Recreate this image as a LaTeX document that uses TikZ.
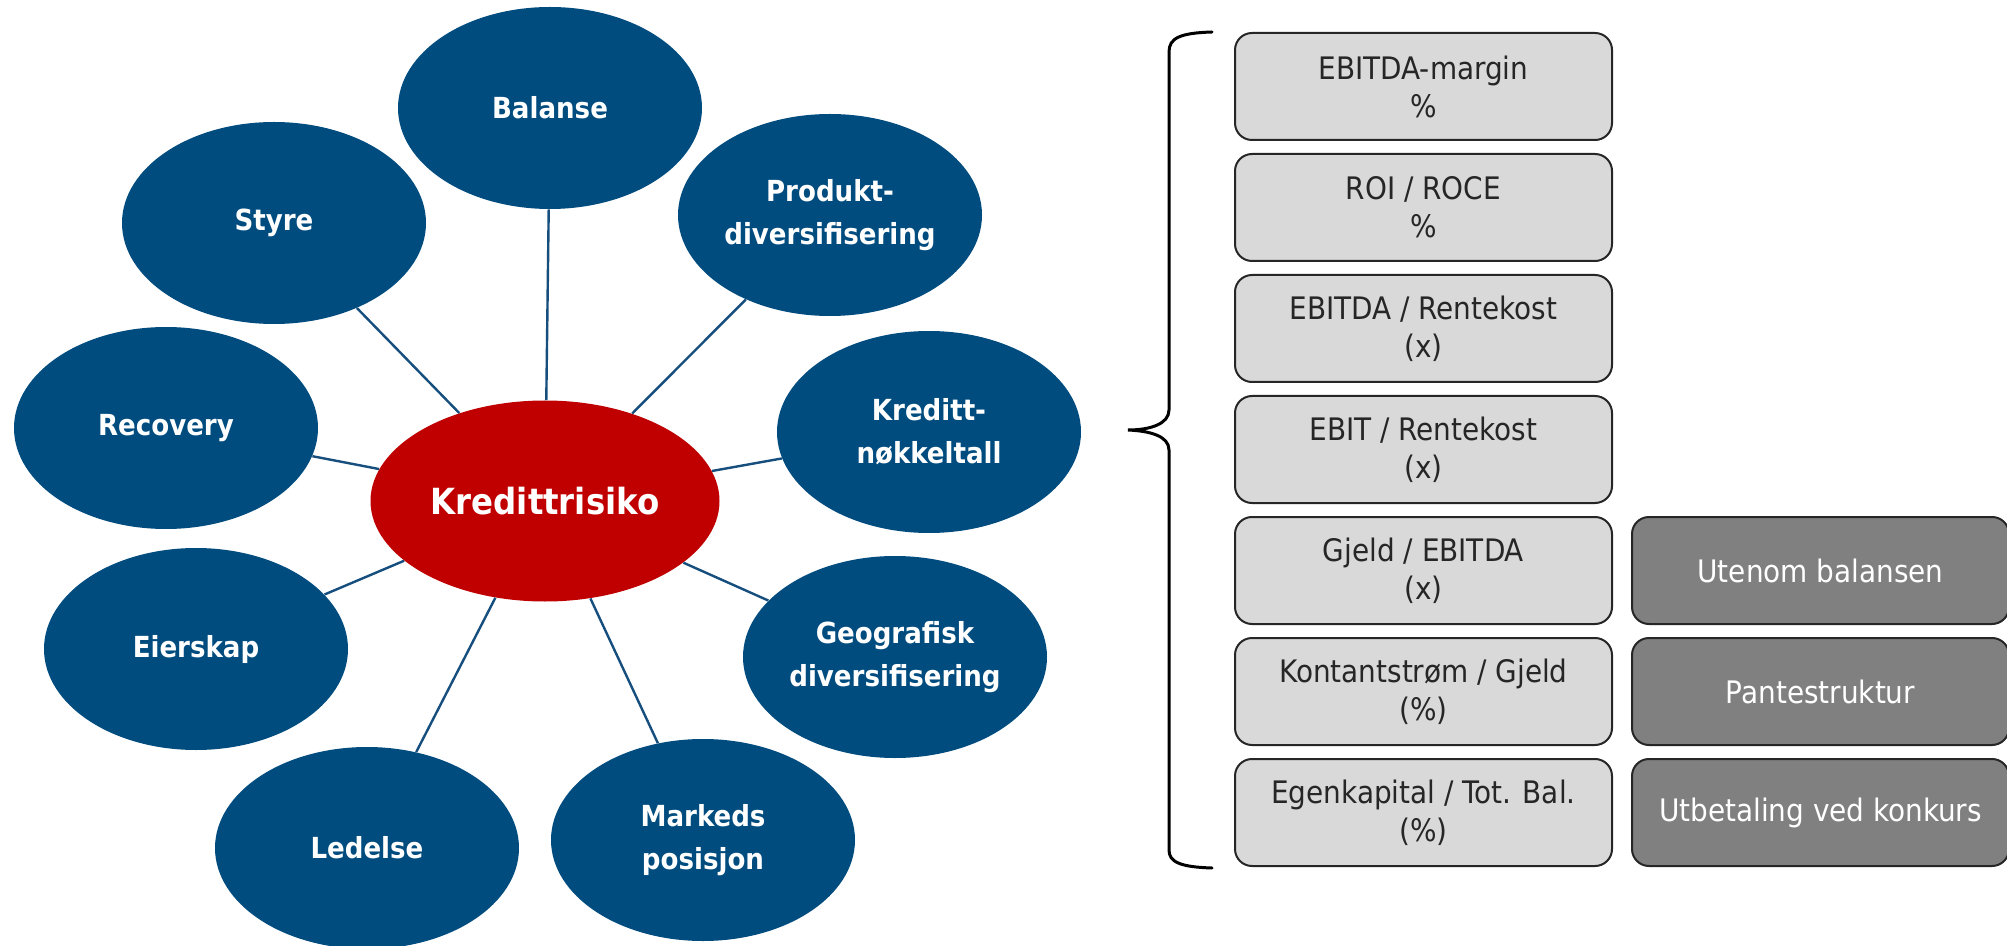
\documentclass[tikz,border=0pt]{standalone}
\usepackage{fontspec}
\setmainfont{DejaVu Sans Condensed}
\usepackage{tikz}
\usetikzlibrary{positioning}
\usetikzlibrary{shapes.geometric}

\definecolor{ellblue}{RGB}{0,76,127}
\definecolor{linkblue}{RGB}{22,78,126}
\definecolor{riskred}{RGB}{192,0,0}
\definecolor{boxgray}{RGB}{217,217,217}
\definecolor{keygray}{RGB}{128,128,128}
\definecolor{edgegray}{RGB}{38,38,38}

\begin{document}
\begin{tikzpicture}[x = 0.5pt, y = -0.5pt,
		factor/.style = {ellipse, fill = ellblue, text = white, align = center, inner sep = 0pt, minimum width = 152pt, minimum height = 101pt, font = \fontsize{14.5}{21.5}\selectfont\bfseries},
		link/.style = {draw = linkblue, line width = 1.2pt},
		ratio/.style = {rectangle, rounded corners = 8.5pt, draw = edgegray, line width = 1pt, fill = boxgray, text = black!85, align = center, minimum width = 188.5pt, minimum height = 53.5pt, font = \fontsize{15.5}{19}\selectfont},
		extra/.style = {ratio, fill = keygray, text = white}]
		\useasboundingbox (0,0) rectangle (2007,946);
		\fill[white] (0,0) rectangle (2007,946);

		% the risk wheel
		\node[factor, fill = riskred, minimum width = 174.5pt, minimum height = 100.5pt, font = \fontsize{18}{22}\selectfont\bfseries] at (545,501) (risk) {Kredittrisiko};
		\node[factor] at (550,108) (bal) {Balanse};
		\node[factor] at (274,223) (styre) {Styre};
		\node[factor] at (830,215) (prod) {Produkt-\\diversifisering};
		\node[factor] at (166,428) (recov) {Recovery};
		\node[factor] at (929,432) (kred) {Kreditt-\\nøkkeltall};
		\node[factor] at (196,649) (eier) {Eierskap};
		\node[factor] at (895,657) (geo) {Geografisk\\diversifisering};
		\node[factor] at (367,848) (led) {Ledelse};
		\node[factor] at (703,840) (mark) {Markeds\\posisjon};
		\draw[link] (risk) to (bal);
		\draw[link] (risk) to (styre);
		\draw[link] (risk) to (prod);
		\draw[link] (risk) to (recov);
		\draw[link] (risk) to (kred);
		\draw[link] (risk) to (eier);
		\draw[link] (risk) to (geo);
		\draw[link] (risk) to (led);
		\draw[link] (risk) to (mark);

		% key figures
		\node[ratio] at (1423.5,86.5) (margin) {EBITDA-margin\\\%};
		\node[below = 6pt of margin, ratio] (roi) {ROI / ROCE\\\%};
		\node[below = 6pt of roi, ratio] (cover) {EBITDA / Rentekost\\(x)};
		\node[below = 6pt of cover, ratio] (ebit) {EBIT / Rentekost\\(x)};
		\node[below = 6pt of ebit, ratio] (gjeld) {Gjeld / EBITDA\\(x)};
		\node[below = 6pt of gjeld, ratio] (cash) {Kontantstrøm / Gjeld\\(\%)};
		\node[below = 6pt of cash, ratio] (equity) {Egenkapital / Tot. Bal.\\(\%)};
		\node[right = 9pt of gjeld, extra] (offbal) {Utenom balansen};
		\node[right = 9pt of cash, extra] (pant) {Pantestruktur};
		\node[right = 9pt of equity, extra] (payout) {Utbetaling ved konkurs};

		% brace
		\draw[line width = 1.5pt, line cap = round] (1212,32) .. controls (1180,33) and (1169,38) .. (1169,52) -- (1169,410) .. controls (1169,424) and (1150,430) .. (1128,430) .. controls (1150,431) and (1169,436) .. (1169,450) -- (1169,850) .. controls (1169,862) and (1180,867) .. (1212,868);
	\end{tikzpicture}
\end{document}
